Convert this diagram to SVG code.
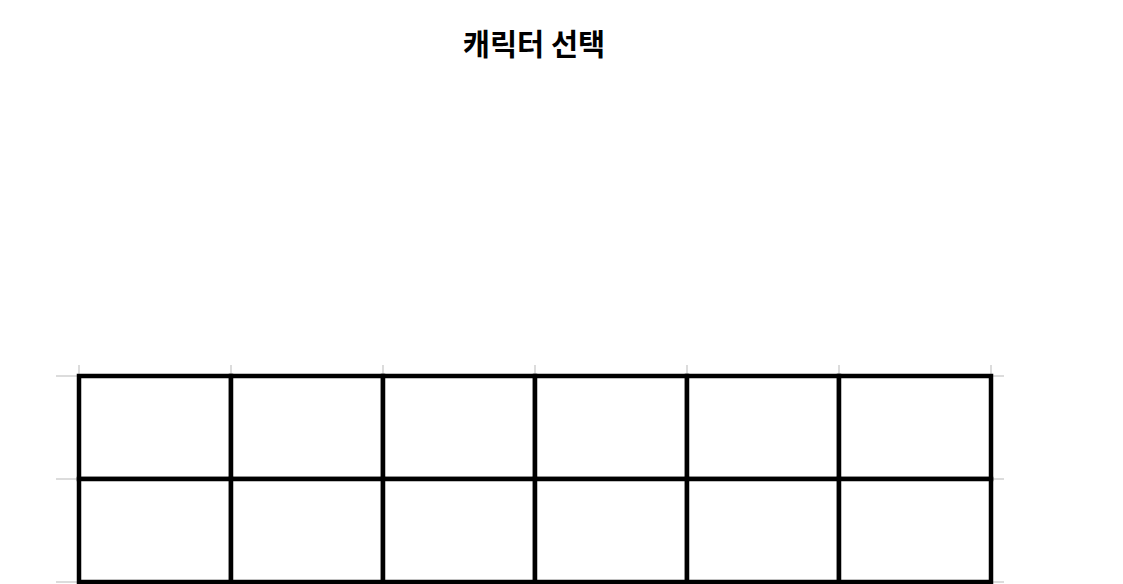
<svg xmlns="http://www.w3.org/2000/svg" width="1123" height="584" viewBox="0 0 1123 584">
<style>
.grid{stroke:#dcdcdc;stroke-width:2;fill:none}
.cell{fill:#ffffff;stroke:#000000;stroke-width:4.5}
.title{font-family:"Noto Sans CJK KR","Noto Sans",sans-serif;font-weight:bold;font-size:29.5px;fill:#000000}
</style>
<rect width="1123" height="584" fill="#ffffff"/>
<g id="gridlines">
<line class="grid" x1="56" y1="376" x2="1004" y2="376"/>
<line class="grid" x1="56" y1="479" x2="1004" y2="479"/>
<line class="grid" x1="56" y1="582" x2="1004" y2="582"/>
<line class="grid" x1="79" y1="365" x2="79" y2="584"/>
<line class="grid" x1="231" y1="365" x2="231" y2="584"/>
<line class="grid" x1="383" y1="365" x2="383" y2="584"/>
<line class="grid" x1="535" y1="365" x2="535" y2="584"/>
<line class="grid" x1="687" y1="365" x2="687" y2="584"/>
<line class="grid" x1="839" y1="365" x2="839" y2="584"/>
<line class="grid" x1="991" y1="365" x2="991" y2="584"/>
</g>
<g id="title"><text class="title" x="534" y="55" text-anchor="middle">캐릭터 선택</text></g>
<g id="cells">
<g id="cell-1-1"><rect class="cell" x="79" y="376" width="152" height="103"/></g>
<g id="cell-1-2"><rect class="cell" x="231" y="376" width="152" height="103"/></g>
<g id="cell-1-3"><rect class="cell" x="383" y="376" width="152" height="103"/></g>
<g id="cell-1-4"><rect class="cell" x="535" y="376" width="152" height="103"/></g>
<g id="cell-1-5"><rect class="cell" x="687" y="376" width="152" height="103"/></g>
<g id="cell-1-6"><rect class="cell" x="839" y="376" width="152" height="103"/></g>
<g id="cell-2-1"><rect class="cell" x="79" y="479" width="152" height="103"/></g>
<g id="cell-2-2"><rect class="cell" x="231" y="479" width="152" height="103"/></g>
<g id="cell-2-3"><rect class="cell" x="383" y="479" width="152" height="103"/></g>
<g id="cell-2-4"><rect class="cell" x="535" y="479" width="152" height="103"/></g>
<g id="cell-2-5"><rect class="cell" x="687" y="479" width="152" height="103"/></g>
<g id="cell-2-6"><rect class="cell" x="839" y="479" width="152" height="103"/></g>
</g>
</svg>
